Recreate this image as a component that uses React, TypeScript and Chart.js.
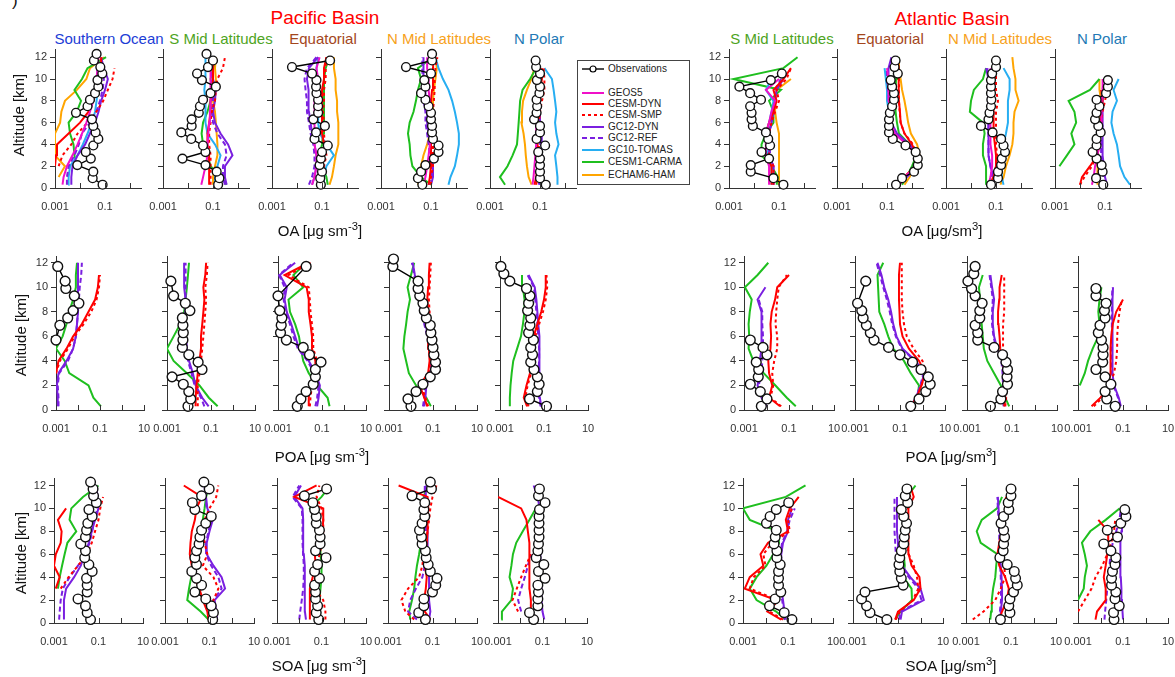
import React, { useEffect, useRef } from "react";
import { Chart, registerables } from "chart.js";

Chart.register(...registerables);

const _ = null;

// ---------- shared axes ----------
const ALT_MODEL = [0.3, 1, 2, 3, 4, 5, 6, 7, 8, 9, 10, 11, 12];
const ALT_OBS = [0.3, 0.9, 1.5, 2.1, 2.7, 3.3, 3.9, 4.5, 5.1, 5.7, 6.3, 6.9, 7.5, 8.1, 8.7, 9.3, 9.9, 10.5, 11.1, 11.7, 12.3];
const X_TICKS = [0.001, 0.01, 0.1, 1, 10];
const X_TICK_LABELS = [0.001, 0.1, 10];
const Y_TICKS = [0, 2, 4, 6, 8, 10, 12];

const MODEL_NAMES = ["GEOS5", "CESM-DYN", "CESM-SMP", "GC12-DYN", "GC12-REF", "GC10-TOMAS", "CESM1-CARMA", "ECHAM6-HAM"];
const MODEL_COLORS = ["#f010c8", "#ff0000", "#ff0000", "#7a1fe0", "#7a1fe0", "#27aef2", "#1fbf1f", "#ffa500"];
const MODEL_DASHES = [[], [], [3, 3], [], [5, 3], [], [], []];
const OA_MODELS = [0, 1, 2, 3, 4, 5, 6, 7];
const POA_SOA_MODELS = [1, 2, 3, 4, 6];

// ---------- OA, Pacific ----------
const OA_PAC_SO_OBS = [0.08, 0.032, 0.034, 0.0078, 0.027, 0.017, 0.034, 0.054, 0.042, 0.034, 0.03, 0.0069, 0.02, 0.025, 0.04, 0.054, 0.05, 0.078, 0.065, 0.036, 0.046];
const OA_PAC_SO_MOD = [
  [0.002, 0.0022, 0.003, 0.005, 0.008, 0.012, 0.018, 0.025, 0.034, 0.04, 0.046, 0.05, 0.055],
  [_, _, 0.001, 0.0011, 0.0012, 0.0035, 0.01, 0.022, 0.034, 0.045, 0.06, 0.07, 0.07],
  [_, _, 0.0014, 0.002, 0.0045, 0.008, 0.02, 0.045, 0.085, 0.13, 0.2, 0.24, _],
  [0.0045, 0.0045, 0.005, 0.008, 0.016, 0.025, 0.04, 0.055, 0.07, 0.1, 0.13, 0.09, 0.07],
  [0.003, 0.003, 0.0035, 0.006, 0.009, 0.012, 0.025, 0.045, 0.063, 0.08, 0.09, 0.08, 0.07],
  [0.0034, 0.0035, 0.004, 0.008, 0.013, 0.02, 0.03, 0.04, 0.046, 0.05, 0.05, 0.05, 0.05],
  [_, _, 0.007, 0.006, 0.0055, 0.004, 0.0035, 0.0075, 0.011, 0.006, 0.012, 0.02, 0.11],
  [_, 0.0014, 0.0025, 0.001, 0.001, 0.001, 0.0016, 0.0018, 0.0025, 0.0075, 0.018, 0.025, 0.09],
];
const OA_PAC_SM_OBS = [0.16, 0.18, 0.14, 0.05, 0.006, 0.05, 0.04, 0.0135, 0.0054, 0.014, 0.014, 0.027, 0.03, 0.04, 0.08, 0.13, 0.036, 0.023, 0.063, 0.1, 0.055];
const OA_PAC_SM_MOD = [
  [0.034, 0.04, 0.05, 0.06, 0.06, 0.065, 0.07, 0.075, 0.08, 0.08, 0.08, 0.08, 0.08],
  [0.07, 0.07, 0.07, 0.07, 0.06, 0.06, 0.07, 0.08, 0.08, 0.09, 0.1, 0.1, 0.11],
  [0.08, 0.08, 0.08, 0.08, 0.07, 0.07, 0.08, 0.09, 0.12, 0.13, 0.15, 0.25, 0.3],
  [0.35, 0.3, 0.3, 0.6, 0.4, 0.2, 0.12, 0.1, 0.12, 0.13, 0.1, 0.1, 0.1],
  [0.3, 0.25, 0.25, 0.35, 0.3, 0.15, 0.1, 0.09, 0.1, 0.1, 0.09, 0.09, 0.09],
  [0.12, 0.12, 0.15, 0.2, 0.12, 0.06, 0.05, 0.05, 0.05, 0.045, 0.05, 0.05, 0.05],
  [0.35, 0.2, 0.08, 0.06, 0.04, 0.035, 0.04, 0.06, 0.08, 0.09, 0.08, 0.1, 0.12],
  [0.1, 0.1, 0.12, 0.15, 0.15, 0.14, 0.13, 0.12, 0.1, 0.13, 0.13, 0.12, 0.13],
];
const OA_PAC_EQ_OBS = [0.09, 0.085, 0.1, 0.08, 0.09, 0.1, 0.17, 0.05, 0.058, 0.13, 0.045, 0.07, 0.07, 0.07, 0.06, 0.058, 0.06, 0.04, 0.0063, 0.21, _];
const OA_PAC_EQ_MOD = [
  [0.04, 0.05, 0.06, 0.06, 0.05, 0.05, 0.05, 0.05, 0.05, 0.06, 0.07, 0.06, 0.08],
  [0.07, 0.08, 0.1, 0.12, 0.12, 0.1, 0.1, 0.1, 0.1, 0.1, 0.12, 0.12, 0.15],
  [0.08, 0.09, 0.12, 0.15, 0.13, 0.12, 0.12, 0.11, 0.12, 0.12, 0.14, 0.14, 0.15],
  [0.04, 0.05, 0.06, 0.06, 0.05, 0.04, 0.035, 0.03, 0.03, 0.028, 0.025, 0.03, 0.07],
  [0.03, 0.04, 0.05, 0.05, 0.045, 0.035, 0.03, 0.025, 0.025, 0.022, 0.02, 0.025, 0.06],
  [0.12, 0.12, 0.15, 0.3, 0.15, 0.08, 0.07, 0.07, 0.06, 0.06, 0.06, 0.06, 0.07],
  [0.17, 0.15, 0.1, 0.08, 0.1, 0.11, 0.12, 0.12, 0.12, 0.12, 0.12, 0.14, 0.2],
  [0.2, 0.25, 0.3, 0.35, 0.45, 0.45, 0.45, 0.4, 0.4, 0.35, 0.35, 0.3, 0.3],
];
const OA_PAC_NM_OBS = [0.045, 0.03, 0.04, 0.06, 0.13, 0.2, 0.2, 0.12, 0.11, 0.11, 0.1, 0.1, 0.08, 0.06, 0.04, 0.06, 0.054, 0.1, 0.01, 0.11, 0.11];
const OA_PAC_NM_MOD = [
  [0.05, 0.06, 0.07, 0.08, 0.09, 0.09, 0.09, 0.09, 0.09, 0.08, 0.08, 0.07, 0.07],
  [0.08, 0.09, 0.1, 0.1, 0.1, 0.1, 0.1, 0.1, 0.1, 0.11, 0.12, 0.12, 0.13],
  [0.1, 0.1, 0.12, 0.12, 0.12, 0.12, 0.12, 0.12, 0.13, 0.14, 0.14, 0.15, 0.18],
  [0.1, 0.12, 0.12, 0.1, 0.09, 0.08, 0.07, 0.07, 0.06, 0.06, 0.05, 0.05, 0.05],
  [0.08, 0.1, 0.1, 0.09, 0.08, 0.07, 0.06, 0.06, 0.05, 0.05, 0.045, 0.045, 0.045],
  [0.5, 0.6, 0.9, 1.1, 1.3, 1.3, 1.1, 0.9, 0.7, 0.5, 0.3, 0.2, 0.15],
  [0.1, 0.04, 0.018, 0.015, 0.014, 0.012, 0.014, 0.02, 0.025, 0.03, 0.04, 0.03, 0.12],
  [0.03, 0.035, 0.04, 0.05, 0.07, 0.09, 0.1, 0.11, 0.12, 0.13, 0.15, 0.17, 0.15],
];
const OA_PAC_NP_OBS = [0.17, 0.1, 0.1, 0.1, 0.1, 0.085, 0.16, 0.073, 0.1, 0.1, 0.058, 0.073, 0.077, 0.073, 0.095, 0.1, 0.075, 0.1, 0.07, 0.067, _];
const OA_PAC_NP_MOD = [
  [0.05, 0.055, 0.06, 0.065, 0.07, 0.07, 0.07, 0.07, 0.08, 0.08, 0.08, 0.08, _],
  [0.06, 0.07, 0.08, 0.08, 0.08, 0.08, 0.08, 0.08, 0.09, 0.1, 0.12, 0.12, _],
  [0.07, 0.08, 0.09, 0.09, 0.09, 0.09, 0.09, 0.1, 0.12, 0.15, 0.15, 0.14, _],
  [0.1, 0.11, 0.12, 0.12, 0.12, 0.11, 0.1, 0.1, 0.1, 0.1, 0.1, 0.09, _],
  [0.09, 0.1, 0.1, 0.1, 0.1, 0.1, 0.09, 0.09, 0.09, 0.09, 0.09, 0.08, _],
  [0.5, 0.5, 0.45, 0.4, 0.55, 0.45, 0.4, 0.45, 0.4, 0.35, 0.3, 0.15, _],
  [0.004, 0.0025, 0.005, 0.008, 0.012, 0.013, 0.014, 0.015, 0.016, 0.02, 0.04, 0.07, _],
  [0.046, 0.035, 0.03, 0.027, 0.025, 0.022, 0.018, 0.019, 0.021, 0.03, 0.045, 0.06, _],
];

// ---------- OA, Atlantic ----------
const OA_ATL_SM_OBS = [0.15, 0.06, 0.0074, 0.0074, 0.04, 0.02, 0.044, 0.037, 0.03, 0.009, 0.008, 0.008, 0.007, 0.019, 0.007, 0.0026, 0.047, 0.13, _, _, _];
const OA_ATL_SM_MOD = [
  [0.04, 0.04, 0.04, 0.03, 0.03, 0.03, 0.04, 0.05, 0.07, 0.03, 0.1, _, _],
  [0.05, 0.05, 0.05, 0.03, 0.03, 0.03, 0.04, 0.06, 0.08, 0.06, 0.15, 0.3, _],
  [0.06, 0.06, 0.06, 0.04, 0.04, 0.04, 0.05, 0.07, 0.1, 0.08, 0.2, 0.3, _],
  [0.06, 0.06, 0.06, 0.04, 0.04, 0.04, 0.05, 0.06, 0.07, 0.08, 0.15, _, _],
  [0.06, 0.06, 0.06, 0.045, 0.04, 0.04, 0.05, 0.06, 0.07, 0.07, 0.12, _, _],
  [0.05, 0.05, 0.05, 0.035, 0.03, 0.03, 0.04, 0.05, 0.06, 0.03, 0.05, _, _],
  [0.08, 0.09, 0.05, 0.02, 0.02, 0.03, 0.06, 0.06, 0.04, 0.12, 0.0015, 0.15, 0.55],
  [0.1, 0.1, 0.1, 0.1, 0.1, 0.1, 0.08, 0.07, 0.07, 0.08, 0.3, _, _],
];
const OA_ATL_EQ_OBS = [0.23, 0.4, 1.2, 1.7, 1.7, 1.4, 0.55, 0.17, 0.12, 0.12, 0.12, 0.13, 0.16, 0.19, 0.19, 0.16, 0.14, 0.27, 0.2, 0.22, _];
const OA_ATL_EQ_MOD = [
  [0.3, 0.5, 1.5, 1.6, 0.6, 0.2, 0.15, 0.13, 0.12, 0.12, 0.11, 0.1, _],
  [0.3, 0.5, 1.3, 1.6, 1.0, 0.5, 0.35, 0.33, 0.3, 0.28, 0.3, 0.3, 0.25],
  [0.3, 0.5, 1.3, 1.6, 1.1, 0.5, 0.35, 0.32, 0.3, 0.3, 0.3, 0.28, 0.25],
  [0.3, 0.6, 2.0, 2.0, 0.8, 0.25, 0.15, 0.14, 0.13, 0.12, 0.11, 0.12, 0.15],
  [0.3, 0.6, 1.8, 1.8, 0.7, 0.22, 0.14, 0.13, 0.12, 0.11, 0.1, 0.1, _],
  [0.3, 0.5, 1.6, 1.6, 0.7, 0.2, 0.13, 0.12, 0.1, 0.1, 0.09, 0.08, _],
  [0.4, 0.6, 1.0, 1.5, 0.8, 0.3, 0.25, 0.22, 0.22, 0.22, 0.23, 0.25, 0.3],
  [0.5, 0.8, 1.3, 2.0, 1.6, 0.9, 0.7, 0.6, 0.5, 0.4, 0.35, 0.3, 0.3],
];
const OA_ATL_NM_OBS = [0.063, 0.12, 0.12, 0.16, 0.17, 0.23, 0.2, 0.16, 0.073, 0.025, 0.05, 0.055, 0.063, 0.065, 0.063, 0.063, 0.063, 0.07, 0.1, 0.1, _];
const OA_ATL_NM_MOD = [
  [0.05, 0.06, 0.07, 0.07, 0.06, 0.06, 0.06, 0.06, 0.06, 0.06, 0.06, 0.06, _],
  [0.06, 0.08, 0.1, 0.1, 0.09, 0.08, 0.08, 0.08, 0.08, 0.08, 0.08, 0.08, _],
  [0.05, 0.08, 0.1, 0.11, 0.1, 0.1, 0.1, 0.1, 0.12, 0.1, 0.1, 0.1, _],
  [0.08, 0.08, 0.06, 0.05, 0.05, 0.05, 0.05, 0.05, 0.05, 0.05, 0.05, 0.04, _],
  [0.07, 0.07, 0.06, 0.05, 0.05, 0.05, 0.05, 0.05, 0.05, 0.05, 0.05, 0.045, _],
  [0.2, 0.17, 0.17, 0.17, 0.2, 0.25, 0.3, 0.3, 0.3, 0.35, 0.35, 0.2, _],
  [0.04, 0.04, 0.04, 0.03, 0.03, 0.035, 0.03, 0.009, 0.01, 0.013, 0.03, 0.04, _],
  [0.15, 0.2, 0.25, 0.35, 0.45, 0.5, 0.5, 0.55, 0.8, 0.6, 0.6, 0.5, 0.45],
];
const OA_ATL_NP_OBS = [0.085, 0.044, 0.08, 0.073, 0.046, 0.032, 0.046, 0.046, 0.067, 0.054, 0.04, 0.046, 0.06, 0.046, 0.11, 0.13, 0.13, _, _, _, _];
const OA_ATL_NP_MOD = [
  [0.03, 0.035, 0.04, 0.05, 0.06, 0.065, 0.07, 0.07, 0.075, 0.08, 0.08, _, _],
  [0.01, 0.012, 0.025, 0.05, 0.06, 0.06, 0.07, 0.07, 0.08, 0.07, _, _, _],
  [0.01, 0.015, 0.03, 0.045, 0.055, 0.06, 0.07, 0.08, 0.1, 0.12, _, _, _],
  [0.12, 0.1, 0.09, 0.08, 0.08, 0.08, 0.08, 0.08, 0.08, 0.09, 0.1, _, _],
  [0.1, 0.09, 0.08, 0.07, 0.07, 0.07, 0.07, 0.07, 0.07, 0.08, 0.09, _, _],
  [1.0, 0.6, 0.4, 0.35, 0.3, 0.22, 0.18, 0.2, 0.3, 0.22, 0.35, _, _],
  [_, _, 0.0015, 0.003, 0.006, 0.0045, 0.007, 0.006, 0.0035, 0.025, 0.06, _, _],
  [0.05, 0.05, 0.05, 0.04, 0.045, 0.05, 0.06, 0.06, 0.07, 0.06, 0.06, _, _],
];

// ---------- POA (CESM-DYN, CESM-SMP, GC12-DYN, GC12-REF, CESM1-CARMA) ----------
const POA_PAC_SO_OBS = [_, _, _, _, _, _, _, _, _, 0.001, _, 0.0015, 0.0034, 0.006, 0.011, 0.0068, 0.0028, 0.0026, _, 0.0012, _];
const POA_PAC_SO_MOD = [
  [_, _, _, 0.001, 0.0013, 0.003, 0.006, 0.015, 0.03, 0.06, 0.08, 0.09, _],
  [_, _, _, 0.001, 0.0015, 0.0035, 0.007, 0.018, 0.04, 0.07, 0.09, 0.1, _],
  [0.0012, 0.0012, 0.0011, 0.0013, 0.003, 0.006, 0.008, 0.009, 0.01, 0.01, 0.01, 0.01, 0.01],
  [0.0013, 0.0013, 0.0012, 0.0014, 0.0035, 0.006, 0.008, 0.009, 0.01, 0.011, 0.012, 0.014, 0.015],
  [0.11, 0.05, 0.03, 0.004, 0.0025, 0.001, 0.002, 0.003, 0.004, 0.006, 0.008, 0.008, 0.009],
];
const POA_PAC_SM_OBS = [0.009, 0.012, 0.0098, 0.0055, 0.0017, 0.039, 0.026, 0.0098, 0.005, 0.0053, 0.0055, 0.0053, 0.005, 0.011, 0.0068, 0.002, _, 0.0015, _, _, _];
const POA_PAC_SM_MOD = [
  [0.02, 0.02, 0.022, 0.025, 0.03, 0.035, 0.035, 0.04, 0.045, 0.05, 0.045, 0.055, 0.06],
  [0.025, 0.025, 0.025, 0.03, 0.035, 0.04, 0.045, 0.05, 0.055, 0.06, 0.055, 0.065, 0.07],
  [0.078, 0.04, 0.02, 0.015, 0.01, 0.008, 0.007, 0.007, 0.007, 0.007, 0.006, 0.006, 0.006],
  [0.05, 0.035, 0.018, 0.013, 0.009, 0.008, 0.007, 0.007, 0.007, 0.007, 0.007, 0.007, 0.007],
  [0.2, 0.08, 0.03, 0.008, 0.002, 0.001, 0.002, 0.004, 0.006, 0.007, 0.008, 0.009, 0.01],
];
const POA_PAC_EQ_OBS = [0.0075, 0.011, 0.019, 0.04, 0.05, 0.05, 0.09, 0.027, 0.014, 0.0024, 0.0013, 0.0014, 0.0015, 0.0012, _, 0.001, _, _, _, 0.019, _];
const POA_PAC_EQ_MOD = [
  [0.025, 0.025, 0.03, 0.05, 0.05, 0.035, 0.035, 0.03, 0.025, 0.025, 0.02, 0.002, 0.025],
  [0.028, 0.03, 0.035, 0.06, 0.06, 0.04, 0.04, 0.035, 0.03, 0.028, 0.025, 0.003, 0.03],
  [0.06, 0.07, 0.08, 0.05, 0.025, 0.009, 0.006, 0.004, 0.0025, 0.002, 0.0025, 0.0012, 0.006],
  [0.05, 0.06, 0.07, 0.045, 0.022, 0.008, 0.005, 0.0035, 0.0022, 0.0018, 0.002, 0.0011, 0.005],
  [0.22, 0.18, 0.06, 0.025, 0.014, 0.011, 0.009, 0.006, 0.0035, 0.003, 0.014, 0.005, 0.019],
];
const POA_PAC_NM_OBS = [0.01, 0.0073, 0.017, 0.035, 0.075, 0.13, 0.13, 0.11, 0.1, 0.09, 0.08, 0.075, 0.05, 0.04, 0.035, 0.025, 0.021, 0.021, _, 0.0015, 0.0016];
const POA_PAC_NM_MOD = [
  [0.055, 0.04, 0.025, 0.06, 0.07, 0.065, 0.06, 0.06, 0.06, 0.055, 0.06, 0.065, 0.07],
  [0.06, 0.045, 0.03, 0.065, 0.075, 0.07, 0.07, 0.07, 0.07, 0.065, 0.07, 0.075, 0.08],
  [0.04, 0.045, 0.05, 0.08, 0.09, 0.08, 0.06, 0.045, 0.035, 0.025, 0.02, 0.015, 0.012],
  [0.035, 0.04, 0.045, 0.07, 0.08, 0.07, 0.055, 0.04, 0.03, 0.022, 0.018, 0.014, 0.011],
  [0.08, 0.05, 0.017, 0.008, 0.006, 0.0045, 0.005, 0.006, 0.007, 0.009, 0.007, 0.01, 0.014],
];
const POA_PAC_NP_OBS = [0.13, 0.022, 0.05, 0.06, 0.05, 0.035, 0.025, 0.03, 0.025, 0.033, 0.02, 0.023, 0.025, 0.018, 0.02, 0.023, 0.016, 0.0028, 0.0015, 0.0011, _];
const POA_PAC_NP_MOD = [
  [0.017, 0.012, 0.016, 0.023, 0.027, 0.032, 0.034, 0.05, 0.075, 0.1, 0.12, 0.12, _],
  [0.02, 0.014, 0.018, 0.026, 0.03, 0.036, 0.04, 0.06, 0.09, 0.12, 0.14, 0.13, _],
  [0.075, 0.065, 0.06, 0.06, 0.065, 0.065, 0.06, 0.055, 0.05, 0.045, 0.038, 0.02, _],
  [0.07, 0.06, 0.055, 0.055, 0.06, 0.06, 0.055, 0.05, 0.045, 0.04, 0.035, 0.018, _],
  [0.0028, 0.0028, 0.003, 0.0034, 0.004, 0.006, 0.009, 0.011, 0.013, 0.013, 0.011, 0.01, _],
];
const POA_ATL_SM_OBS = [0.0059, 0.0105, 0.0053, 0.0019, 0.0043, 0.0045, 0.0035, 0.0105, 0.007, 0.0019, _, _, _, _, _, _, _, _, _, _, _];
const POA_ATL_SM_MOD = [
  [0.04, 0.013, 0.018, 0.013, 0.012, 0.015, 0.016, 0.015, 0.017, 0.024, 0.03, 0.1, _],
  [0.045, 0.015, 0.02, 0.018, 0.022, 0.03, 0.03, 0.025, 0.027, 0.03, 0.035, 0.08, _],
  [0.01, 0.007, 0.004, 0.005, 0.005, 0.006, 0.006, 0.006, 0.006, 0.004, 0.009, _, _],
  [0.01, 0.006, 0.0045, 0.006, 0.0065, 0.007, 0.007, 0.0065, 0.0065, 0.0045, _, _, _],
  [0.2, 0.08, 0.025, 0.0075, 0.0026, 0.0016, 0.0017, 0.0016, 0.0018, 0.0022, 0.0011, 0.004, 0.012],
];
const POA_ATL_EQ_OBS = [0.3, 0.7, 1.4, 2.2, 1.8, 0.86, 0.36, 0.1, 0.031, 0.007, 0.0048, 0.0032, 0.0023, 0.002, 0.0013, _, _, 0.003, _, _, _];
const POA_ATL_EQ_MOD = [
  [0.3, 0.55, 0.9, 1.3, 0.7, 0.25, 0.13, 0.1, 0.095, 0.09, 0.09, 0.09, 0.1],
  [0.3, 0.55, 0.9, 1.4, 1.0, 0.4, 0.2, 0.15, 0.13, 0.12, 0.12, 0.12, 0.12],
  [0.3, 0.5, 0.85, 1.2, 0.5, 0.13, 0.07, 0.05, 0.04, 0.03, 0.02, 0.015, 0.01],
  [0.3, 0.5, 0.8, 1.1, 0.45, 0.12, 0.065, 0.045, 0.035, 0.026, 0.018, 0.013, 0.009],
  [0.36, 0.6, 0.7, 0.3, 0.15, 0.05, 0.03, 0.02, 0.012, _, _, 0.01, 0.018],
];
const POA_ATL_NM_OBS = [0.011, 0.032, 0.038, 0.063, 0.06, 0.063, 0.054, 0.038, 0.016, 0.003, 0.003, 0.0023, 0.0037, 0.0037, 0.0047, 0.0023, 0.0016, 0.0011, 0.002, 0.0023, _];
const POA_ATL_NM_MOD = [
  [0.045, 0.05, 0.05, 0.045, 0.04, 0.03, 0.028, 0.025, 0.024, 0.027, 0.028, 0.035, _],
  [0.05, 0.055, 0.055, 0.05, 0.045, 0.04, 0.04, 0.04, 0.045, 0.045, 0.045, 0.045, _],
  [0.045, 0.045, 0.045, 0.042, 0.038, 0.022, 0.016, 0.014, 0.014, 0.016, 0.013, 0.011, _],
  [0.042, 0.042, 0.04, 0.038, 0.034, 0.02, 0.015, 0.013, 0.013, 0.014, 0.012, 0.01, _],
  [0.075, 0.05, 0.032, 0.016, 0.008, 0.0056, 0.005, 0.0045, 0.004, 0.0038, 0.0034, 0.005, _],
];
const POA_ATL_NP_OBS = [0.045, 0.019, 0.016, 0.029, 0.016, 0.0063, 0.0125, 0.013, 0.013, 0.011, 0.008, 0.0095, 0.016, 0.015, 0.0177, 0.0063, 0.0063, _, _, _, _];
const POA_ATL_NP_MOD = [
  [0.004, 0.01, 0.022, 0.028, 0.028, 0.028, 0.03, 0.035, 0.05, 0.1, _, _, _],
  [0.005, 0.012, 0.025, 0.04, 0.05, 0.055, 0.055, 0.06, 0.07, 0.09, _, _, _],
  [0.08, 0.065, 0.04, 0.034, 0.033, 0.034, 0.035, 0.035, 0.034, 0.034, 0.036, _, _],
  [0.075, 0.06, 0.038, 0.032, 0.03, 0.031, 0.032, 0.032, 0.032, 0.032, 0.034, _, _],
  [_, _, 0.0012, 0.002, 0.0028, 0.0045, 0.008, 0.009, 0.008, 0.009, 0.011, _, _],
];

// ---------- SOA (CESM-DYN, CESM-SMP, GC12-DYN, GC12-REF, CESM1-CARMA) ----------
const SOA_PAC_SO_OBS = [0.044, 0.031, 0.026, 0.012, 0.031, 0.031, 0.029, 0.052, 0.037, 0.024, 0.026, 0.016, 0.026, 0.029, 0.033, 0.052, 0.037, 0.08, 0.06, 0.057, 0.044];
const SOA_PAC_SO_MOD = [
  [_, _, _, 0.0012, 0.0018, 0.001, 0.0012, 0.002, 0.0022, 0.0015, 0.0035, _, _],
  [_, _, _, 0.002, 0.0045, 0.012, 0.03, 0.05, 0.07, 0.1, 0.12, 0.16, _],
  [0.0028, 0.0028, 0.0028, 0.0035, 0.008, 0.016, 0.024, 0.037, 0.05, 0.07, 0.1, 0.09, 0.08],
  [0.0017, 0.0018, 0.002, 0.0025, 0.005, 0.012, 0.025, 0.04, 0.052, 0.065, 0.09, 0.085, 0.08],
  [_, _, _, 0.0015, 0.0018, 0.0023, 0.003, 0.004, 0.01, 0.005, 0.006, 0.02, 0.1],
];
const SOA_PAC_SM_OBS = [0.14, 0.15, 0.12, 0.068, 0.022, 0.044, 0.026, 0.016, 0.026, 0.022, 0.026, 0.034, 0.037, 0.044, 0.068, 0.12, 0.022, 0.017, 0.044, 0.097, 0.056];
const SOA_PAC_SM_MOD = [
  [0.09, 0.08, 0.05, 0.035, 0.02, 0.016, 0.013, 0.014, 0.016, 0.022, 0.026, 0.045, 0.007],
  [0.14, 0.13, 0.15, 0.25, 0.15, 0.05, 0.08, 0.06, 0.05, 0.06, 0.1, 0.2, 0.25],
  [0.22, 0.2, 0.17, 0.5, 0.35, 0.15, 0.075, 0.075, 0.1, 0.14, 0.08, 0.07, 0.065],
  [0.2, 0.18, 0.15, 0.35, 0.25, 0.12, 0.07, 0.07, 0.09, 0.12, 0.075, 0.065, 0.06],
  [0.09, 0.04, 0.01, 0.012, 0.015, 0.022, 0.035, 0.05, 0.055, 0.05, 0.06, 0.07, 0.1],
];
const SOA_PAC_EQ_OBS = [0.075, 0.058, 0.067, 0.054, 0.054, 0.049, 0.081, 0.049, 0.067, 0.16, 0.054, 0.087, 0.087, 0.081, 0.058, 0.058, 0.049, 0.041, 0.017, 0.17, _];
const SOA_PAC_EQ_MOD = [
  [0.03, 0.03, 0.03, 0.03, 0.04, 0.055, 0.05, 0.1, 0.11, 0.12, 0.12, 0.006, 0.06],
  [0.15, 0.15, 0.12, 0.05, 0.05, 0.07, 0.08, 0.11, 0.12, 0.12, 0.1, 0.06, 0.08],
  [0.02, 0.018, 0.018, 0.018, 0.018, 0.017, 0.016, 0.015, 0.015, 0.015, 0.014, 0.006, 0.012],
  [0.01, 0.011, 0.013, 0.015, 0.016, 0.016, 0.015, 0.014, 0.014, 0.014, 0.013, 0.005, 0.01],
  [0.08, 0.08, 0.08, 0.09, 0.1, 0.1, 0.09, 0.09, 0.09, 0.08, 0.03, 0.1, 0.25],
];
const SOA_PAC_NM_OBS = [0.048, 0.024, 0.041, 0.041, 0.1, 0.14, 0.16, 0.08, 0.064, 0.052, 0.048, 0.034, 0.032, 0.026, 0.034, 0.045, 0.041, 0.045, 0.012, 0.09, 0.08];
const SOA_PAC_NM_MOD = [
  [0.08, 0.045, 0.042, 0.05, 0.055, 0.045, 0.048, 0.055, 0.06, 0.06, 0.065, 0.06, 0.003],
  [0.015, 0.006, 0.004, 0.008, 0.025, 0.035, 0.04, 0.05, 0.06, 0.07, 0.08, 0.1, 0.15],
  [0.07, 0.08, 0.07, 0.07, 0.07, 0.065, 0.06, 0.06, 0.06, 0.055, 0.05, 0.05, 0.05],
  [0.02, 0.008, 0.01, 0.018, 0.035, 0.045, 0.05, 0.05, 0.05, 0.05, 0.045, 0.045, 0.045],
  [0.01, 0.009, 0.012, 0.015, 0.017, 0.02, 0.025, 0.03, 0.04, 0.045, 0.05, 0.04, 0.06],
];
const SOA_PAC_NP_OBS = [0.04, 0.026, 0.062, 0.062, 0.066, 0.062, 0.13, 0.066, 0.115, 0.052, 0.062, 0.066, 0.07, 0.07, 0.07, 0.07, 0.073, 0.13, 0.066, 0.073, _];
const SOA_PAC_NP_MOD = [
  [0.03, 0.03, 0.03, 0.026, 0.026, 0.026, 0.026, 0.025, 0.022, 0.019, 0.011, 0.001, _],
  [_, 0.008, 0.0045, 0.007, 0.011, 0.018, 0.03, _, _, _, _, _, _],
  [0.12, 0.1, 0.09, 0.09, 0.09, 0.085, 0.08, 0.08, 0.08, 0.08, 0.075, 0.06, 0.04],
  [_, 0.011, 0.008, 0.011, 0.016, 0.022, 0.03, _, _, _, _, _, _],
  [0.0014, 0.0015, 0.004, 0.0047, 0.0033, 0.004, 0.0047, 0.0066, 0.013, 0.026, 0.05, _, _],
];
const SOA_ATL_SM_OBS = [0.15, 0.068, 0.015, 0.027, 0.048, 0.038, 0.038, 0.038, 0.045, 0.032, 0.032, 0.024, 0.027, 0.03, 0.011, 0.016, 0.03, 0.107, _, _, _];
const SOA_ATL_SM_MOD = [
  [0.05, 0.012, 0.03, 0.0012, 0.002, 0.008, 0.006, 0.013, 0.1, 0.08, 0.12, 0.3, _],
  [0.06, 0.015, 0.035, 0.002, 0.003, 0.01, 0.008, 0.02, 0.12, 0.1, 0.15, _, _],
  [0.08, 0.07, 0.06, 0.05, 0.05, 0.05, 0.05, 0.06, 0.1, 0.1, 0.15, _, _],
  [0.07, 0.065, 0.055, 0.045, 0.045, 0.045, 0.045, 0.055, 0.09, 0.12, 0.2, _, _],
  [0.075, 0.03, 0.004, 0.002, 0.004, 0.011, 0.022, 0.04, 0.035, 0.002, 0.001, 0.08, 0.6],
];
const SOA_ATL_EQ_OBS = [0.032, 0.0057, 0.004, 0.0024, 0.0034, 0.17, 0.14, 0.12, 0.11, 0.12, 0.14, 0.18, 0.19, 0.21, 0.24, 0.18, 0.14, 0.27, 0.21, 0.25, _];
const SOA_ATL_EQ_MOD = [
  [0.075, 0.1, 0.5, 1.0, 0.9, 0.4, 0.3, 0.3, 0.28, 0.28, 0.3, 0.5, 0.35],
  [0.08, 0.12, 0.45, 0.8, 0.7, 0.5, 0.3, 0.25, 0.25, 0.25, 0.28, 0.35, 0.3],
  [0.13, 0.15, 1.4, 1.0, 0.35, 0.15, 0.1, 0.1, 0.09, 0.09, 0.09, 0.09, _],
  [0.11, 0.13, 1.1, 0.8, 0.3, 0.12, 0.08, 0.075, 0.07, 0.07, 0.07, 0.07, _],
  [0.075, 0.13, 0.42, 0.4, 0.17, 0.2, 0.18, 0.2, 0.2, 0.2, 0.2, 0.25, 0.6],
];
const SOA_ATL_NM_OBS = [0.034, 0.09, 0.08, 0.09, 0.13, 0.19, 0.16, 0.14, 0.068, 0.032, 0.045, 0.047, 0.052, 0.047, 0.036, 0.047, 0.08, 0.075, 0.1, 0.1, _];
const SOA_ATL_NM_MOD = [
  [0.03, 0.04, 0.065, 0.08, 0.055, 0.03, 0.025, 0.03, 0.04, 0.05, 0.055, 0.06, _],
  [0.002, 0.006, 0.02, 0.035, 0.055, 0.05, 0.045, 0.045, 0.05, 0.05, 0.055, _, _],
  [0.035, 0.035, 0.04, 0.04, 0.038, 0.035, 0.032, 0.032, 0.033, 0.03, 0.028, 0.026, _],
  [0.03, 0.032, 0.036, 0.036, 0.035, 0.033, 0.03, 0.03, 0.03, 0.028, 0.026, 0.025, _],
  [0.012, 0.013, 0.014, 0.016, 0.02, 0.022, 0.025, 0.0045, 0.003, 0.005, 0.024, 0.04, _],
];
const SOA_ATL_NP_OBS = [0.04, 0.038, 0.068, 0.044, 0.048, 0.031, 0.031, 0.034, 0.044, 0.048, 0.029, 0.014, 0.057, 0.02, 0.08, 0.135, 0.12, _, _, _, _];
const SOA_ATL_NP_MOD = [
  [0.006, 0.007, 0.017, 0.017, 0.014, 0.017, 0.02, 0.022, 0.022, 0.008, _, _, _],
  [_, 0.001, 0.002, 0.004, 0.006, 0.012, 0.02, 0.03, 0.04, 0.045, _, _, _],
  [0.1, 0.095, 0.09, 0.085, 0.08, 0.075, 0.075, 0.08, 0.085, 0.09, 0.1, _, _],
  [0.015, 0.016, 0.018, 0.02, 0.022, 0.025, 0.028, 0.035, 0.05, 0.07, 0.08, _, _],
  [_, _, 0.001, 0.0018, 0.002, 0.0025, 0.002, 0.0015, 0.0035, 0.017, 0.07, _, _],
];

// ---------- layout ----------
const FONT = "'Liberation Sans', Arial, Helvetica, sans-serif";
const AXIS = "#333";
const PAD_L = 40, PAD_R = 22, PAD_T = 8, PAD_B = 34;

const ROW_TOP = { top: 48, height: 140, ymax: 12.7, xmax: 2.75, r: 4.4 };
const ROW_MID = { top: 255, height: 155, ymax: 12.5, xmax: 10, r: 4.9 };
const ROW_BOT = { top: 477, height: 146, ymax: 12.6, xmax: 10, r: 4.8 };

type Spec = { top: number; height: number; ymax: number; xmax: number; r: number; left: number; width: number; obs: any[]; models: any[][]; idx: number[]; yLabels: boolean };

const mk = (row: any, left: number, width: number, obs: any[], models: any[][], idx: number[], yLabels = false): Spec => ({ ...row, left, width, obs, models, idx, yLabels });

const PANELS: Spec[] = [
  mk(ROW_TOP, 55, 86, OA_PAC_SO_OBS, OA_PAC_SO_MOD, OA_MODELS, true),
  mk(ROW_TOP, 163, 86, OA_PAC_SM_OBS, OA_PAC_SM_MOD, OA_MODELS),
  mk(ROW_TOP, 272, 86, OA_PAC_EQ_OBS, OA_PAC_EQ_MOD, OA_MODELS),
  mk(ROW_TOP, 381, 86, OA_PAC_NM_OBS, OA_PAC_NM_MOD, OA_MODELS),
  mk(ROW_TOP, 490, 86, OA_PAC_NP_OBS, OA_PAC_NP_MOD, OA_MODELS),
  mk(ROW_TOP, 729, 86, OA_ATL_SM_OBS, OA_ATL_SM_MOD, OA_MODELS, true),
  mk(ROW_TOP, 837, 86, OA_ATL_EQ_OBS, OA_ATL_EQ_MOD, OA_MODELS),
  mk(ROW_TOP, 946, 86, OA_ATL_NM_OBS, OA_ATL_NM_MOD, OA_MODELS),
  mk(ROW_TOP, 1055, 86, OA_ATL_NP_OBS, OA_ATL_NP_MOD, OA_MODELS),

  mk(ROW_MID, 56, 88, POA_PAC_SO_OBS, POA_PAC_SO_MOD, POA_SOA_MODELS, true),
  mk(ROW_MID, 167, 88, POA_PAC_SM_OBS, POA_PAC_SM_MOD, POA_SOA_MODELS),
  mk(ROW_MID, 278, 88, POA_PAC_EQ_OBS, POA_PAC_EQ_MOD, POA_SOA_MODELS),
  mk(ROW_MID, 389, 88, POA_PAC_NM_OBS, POA_PAC_NM_MOD, POA_SOA_MODELS),
  mk(ROW_MID, 500, 88, POA_PAC_NP_OBS, POA_PAC_NP_MOD, POA_SOA_MODELS),
  mk(ROW_MID, 744, 90, POA_ATL_SM_OBS, POA_ATL_SM_MOD, POA_SOA_MODELS, true),
  mk(ROW_MID, 855, 90, POA_ATL_EQ_OBS, POA_ATL_EQ_MOD, POA_SOA_MODELS),
  mk(ROW_MID, 967, 90, POA_ATL_NM_OBS, POA_ATL_NM_MOD, POA_SOA_MODELS),
  mk(ROW_MID, 1078, 90, POA_ATL_NP_OBS, POA_ATL_NP_MOD, POA_SOA_MODELS),

  mk(ROW_BOT, 54, 89, SOA_PAC_SO_OBS, SOA_PAC_SO_MOD, POA_SOA_MODELS, true),
  mk(ROW_BOT, 165, 89, SOA_PAC_SM_OBS, SOA_PAC_SM_MOD, POA_SOA_MODELS),
  mk(ROW_BOT, 277, 89, SOA_PAC_EQ_OBS, SOA_PAC_EQ_MOD, POA_SOA_MODELS),
  mk(ROW_BOT, 388, 89, SOA_PAC_NM_OBS, SOA_PAC_NM_MOD, POA_SOA_MODELS),
  mk(ROW_BOT, 498, 89, SOA_PAC_NP_OBS, SOA_PAC_NP_MOD, POA_SOA_MODELS),
  mk(ROW_BOT, 743, 90, SOA_ATL_SM_OBS, SOA_ATL_SM_MOD, POA_SOA_MODELS, true),
  mk(ROW_BOT, 853, 90, SOA_ATL_EQ_OBS, SOA_ATL_EQ_MOD, POA_SOA_MODELS),
  mk(ROW_BOT, 966, 90, SOA_ATL_NM_OBS, SOA_ATL_NM_MOD, POA_SOA_MODELS),
  mk(ROW_BOT, 1078, 90, SOA_ATL_NP_OBS, SOA_ATL_NP_MOD, POA_SOA_MODELS),
];

const toPoints = (vals: any[], alts: number[]) =>
  vals.map((v, i) => (v == null ? null : { x: v, y: alts[i] })).filter((p) => p !== null);

const inwardTicks = {
  id: "inwardTicks",
  afterDraw(chart: any) {
    const s = chart.scales.x;
    const ctx = chart.ctx;
    const b = chart.chartArea.bottom;
    ctx.save();
    ctx.strokeStyle = AXIS;
    ctx.lineWidth = 1;
    s.ticks.forEach((t: any) => {
      const px = Math.round(s.getPixelForValue(t.value)) + 0.5;
      ctx.beginPath();
      ctx.moveTo(px, b);
      ctx.lineTo(px, b - 5);
      ctx.stroke();
    });
    ctx.restore();
  },
};

function Panel({ spec }: { spec: Spec }) {
  const ref = useRef<HTMLCanvasElement>(null);
  const W = PAD_L + spec.width + PAD_R;
  const H = PAD_T + spec.height + PAD_B;
  useEffect(() => {
    if (!ref.current) return;
    const datasets: any[] = [
      {
        label: "Observations",
        data: toPoints(spec.obs, ALT_OBS),
        borderColor: "#000",
        borderWidth: 1.4,
        pointRadius: spec.r,
        pointBackgroundColor: "#fff",
        pointBorderColor: "#111",
        pointBorderWidth: 1.4,
        order: 0,
        clip: false,
      },
    ];
    spec.idx.forEach((mi, k) => {
      datasets.push({
        label: MODEL_NAMES[mi],
        data: toPoints(spec.models[k], ALT_MODEL),
        borderColor: MODEL_COLORS[mi],
        borderDash: MODEL_DASHES[mi],
        borderWidth: 2,
        pointRadius: 0,
        order: 1,
      });
    });
    const chart = new Chart(ref.current, {
      type: "line",
      data: { datasets },
      options: {
        animation: false,
        responsive: false,
        maintainAspectRatio: false,
        events: [],
        layout: { padding: { top: PAD_T, right: PAD_R, left: 0, bottom: 0 }, autoPadding: false },
        plugins: { legend: { display: false }, tooltip: { enabled: false }, title: { display: false } },
        elements: { line: { tension: 0 } },
        scales: {
          x: {
            type: "logarithmic",
            min: 0.001,
            max: spec.xmax,
            afterBuildTicks: (s: any) => {
              s.ticks = X_TICKS.filter((v) => v <= spec.xmax * 1.001).map((v) => ({ value: v }));
            },
            afterFit: (s: any) => {
              s.height = PAD_B;
            },
            grid: { display: false, drawTicks: false },
            border: { display: true, color: AXIS, width: 1 },
            ticks: {
              autoSkip: false,
              maxRotation: 0,
              minRotation: 0,
              padding: 12,
              color: "#333",
              font: { family: FONT, size: 11 },
              callback: (v: any) => (X_TICK_LABELS.indexOf(v) >= 0 ? String(v) : ""),
            },
          },
          y: {
            type: "linear",
            min: 0,
            max: spec.ymax,
            afterBuildTicks: (s: any) => {
              s.ticks = Y_TICKS.map((v) => ({ value: v }));
            },
            afterFit: (s: any) => {
              s.width = PAD_L;
            },
            grid: { display: true, drawOnChartArea: false, drawTicks: true, tickLength: 5, color: AXIS },
            border: { display: true, color: AXIS, width: 1 },
            ticks: {
              padding: 3,
              color: "#333",
              font: { family: FONT, size: 11 },
              callback: (v: any) => (spec.yLabels ? String(v) : ""),
            },
          },
        },
      } as any,
      plugins: [inwardTicks],
    });
    return () => chart.destroy();
  }, []);
  return (
    <canvas
      ref={ref}
      width={W}
      height={H}
      style={{ position: "absolute", left: spec.left - PAD_L, top: spec.top - PAD_T, width: W, height: H }}
    />
  );
}

function Txt({ x, y, size = 15, color = "#111", children, rotate = false }: any) {
  return (
    <div
      style={{
        position: "absolute",
        left: x,
        top: y,
        transform: `translate(-50%, -50%)${rotate ? " rotate(-90deg)" : ""}`,
        fontFamily: FONT,
        fontSize: size,
        color,
        lineHeight: 1,
        whiteSpace: "nowrap",
      }}
    >
      {children}
    </div>
  );
}

const REGION_TITLES = [
  { t: "Southern Ocean", x: 109, c: "#1c3dd6" },
  { t: "S Mid Latitudes", x: 221, c: "#4ea41e" },
  { t: "Equatorial", x: 323, c: "#a3461c" },
  { t: "N Mid Latitudes", x: 439, c: "#f7a21b" },
  { t: "N Polar", x: 539, c: "#2279b5" },
  { t: "S Mid Latitudes", x: 782, c: "#4ea41e" },
  { t: "Equatorial", x: 890, c: "#a3461c" },
  { t: "N Mid Latitudes", x: 1000, c: "#f7a21b" },
  { t: "N Polar", x: 1102, c: "#2279b5" },
];

const LEGEND_ROWS = [32, 43, 54, 65.5, 77, 88.5, 100.5, 113.5];

function Legend() {
  return (
    <div
      style={{
        position: "absolute",
        left: 577,
        top: 60,
        width: 113,
        height: 125,
        border: "1px solid #444",
        boxSizing: "border-box",
        background: "#fff",
        fontFamily: FONT,
        fontSize: 10,
        color: "#222",
      }}
    >
      <svg style={{ position: "absolute", left: 3, top: 3 }} width={24} height={10}>
        <line x1={1} y1={5} x2={23} y2={5} stroke="#000" strokeWidth={1.4} />
        <circle cx={12} cy={5} r={3} fill="#fff" stroke="#000" strokeWidth={1.2} />
      </svg>
      <div style={{ position: "absolute", left: 30, top: 2, lineHeight: "12px" }}>Observations</div>
      {MODEL_NAMES.map((n, i) => (
        <React.Fragment key={n}>
          <svg style={{ position: "absolute", left: 3, top: LEGEND_ROWS[i] - 5 }} width={24} height={10}>
            <line
              x1={1}
              y1={5}
              x2={23}
              y2={5}
              stroke={MODEL_COLORS[i]}
              strokeWidth={2}
              strokeDasharray={MODEL_DASHES[i].length ? MODEL_DASHES[i].join(",") : undefined}
            />
          </svg>
          <div style={{ position: "absolute", left: 30, top: LEGEND_ROWS[i] - 6, lineHeight: "12px" }}>{n}</div>
        </React.Fragment>
      ))}
    </div>
  );
}

export default function App() {
  return (
    <div style={{ position: "absolute", left: 0, top: 0, width: 1175, height: 677, background: "#fff", overflow: "hidden" }}>
      <div style={{ position: "absolute", left: 12, top: -9, fontFamily: FONT, fontSize: 17, color: "#111" }}>)</div>
      <Txt x={325} y={17} size={19} color="#ff0000">Pacific Basin</Txt>
      <Txt x={952} y={18} size={19} color="#ff0000">Atlantic Basin</Txt>
      {REGION_TITLES.map((r, i) => (
        <Txt key={i} x={r.x} y={38} size={15} color={r.c}>{r.t}</Txt>
      ))}
      {PANELS.map((p, i) => (
        <Panel key={i} spec={p} />
      ))}
      <Legend />
      <Txt x={18} y={115} rotate>Altitude [km]</Txt>
      <Txt x={20} y={335} rotate>Altitude [km]</Txt>
      <Txt x={20} y={553} rotate>Altitude [km]</Txt>
      <Txt x={320} y={229}>OA [μg sm<sup style={{ fontSize: "0.75em" }}>-3</sup>]</Txt>
      <Txt x={942} y={229}>OA [μg/sm<sup style={{ fontSize: "0.75em" }}>3</sup>]</Txt>
      <Txt x={322} y={455}>POA [μg sm<sup style={{ fontSize: "0.75em" }}>-3</sup>]</Txt>
      <Txt x={951} y={455}>POA [μg/sm<sup style={{ fontSize: "0.75em" }}>3</sup>]</Txt>
      <Txt x={319} y={664}>SOA [μg sm<sup style={{ fontSize: "0.75em" }}>-3</sup>]</Txt>
      <Txt x={951} y={664}>SOA [μg/sm<sup style={{ fontSize: "0.75em" }}>3</sup>]</Txt>
    </div>
  );
}
